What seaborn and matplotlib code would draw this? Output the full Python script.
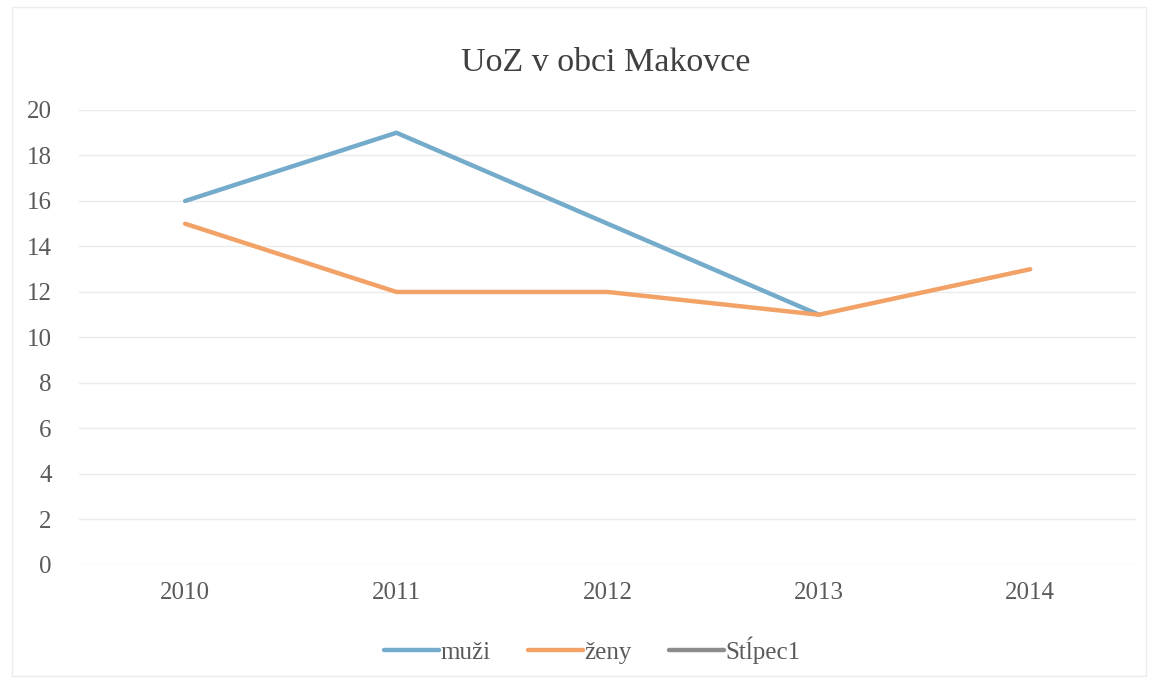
import matplotlib
matplotlib.use("Agg")
import matplotlib.pyplot as plt
from matplotlib.lines import Line2D
from matplotlib.patches import Rectangle
import seaborn as sns
import pandas as pd
import numpy as np

years = ["2010", "2011", "2012", "2013", "2014"]
muzi = [16, 19, 15, 11, np.nan]
zeny = [15, 12, 12, 11, 13]
series_names = ["muži", "ženy", "Stĺpec1"]
colors = ["#74abcb", "#f2a266", "#8c8c8c"]

df = pd.DataFrame({
    "rok": years * 2,
    "pocet": muzi + zeny,
    "seria": [series_names[0]] * 5 + [series_names[1]] * 5,
})

sns.set_theme(style="white")
plt.rcParams["font.family"] = ["Liberation Serif", "DejaVu Serif"]

fig = plt.figure(figsize=(11.52, 6.79), dpi=100)
ax = fig.add_axes([0.069, 0.168, 0.917, 0.670])

sns.lineplot(data=df, x="rok", y="pocet", hue="seria",
             palette=dict(zip(series_names[:2], colors[:2])),
             linewidth=3.2, ax=ax, legend=False, sort=False)

ax.set_xlim(-0.5, 4.5)
ax.set_ylim(0, 20)
ax.set_yticks(range(0, 21, 2))
ax.grid(axis="y", color="#ebebeb", linewidth=1)
ax.set_axisbelow(True)
for s in ax.spines.values():
    s.set_visible(False)
ax.set_xlabel("")
ax.set_ylabel("")
ax.tick_params(axis="both", length=0, labelsize=18, labelcolor="#5a5a5a", pad=12)
ax.tick_params(axis="y", pad=20)

fig.text(0.526, 0.908, "UoZ v obci Makovce", ha="center", va="center",
         fontsize=24.5, color="#404040")

handles = [Line2D([0], [0], color=c, linewidth=3.2) for c in colors]
fig.legend(handles, series_names, loc="center", bbox_to_anchor=(0.514, 0.043),
           ncol=3, frameon=False, fontsize=18, handlelength=2.2,
           handletextpad=0.05, columnspacing=1.5, labelcolor="#5a5a5a")

fig.patches.append(Rectangle((0.01, 0.005), 0.985, 0.985, transform=fig.transFigure,
                             fill=False, edgecolor="#ececec", linewidth=1))

fig.savefig("out.png", dpi=100)
